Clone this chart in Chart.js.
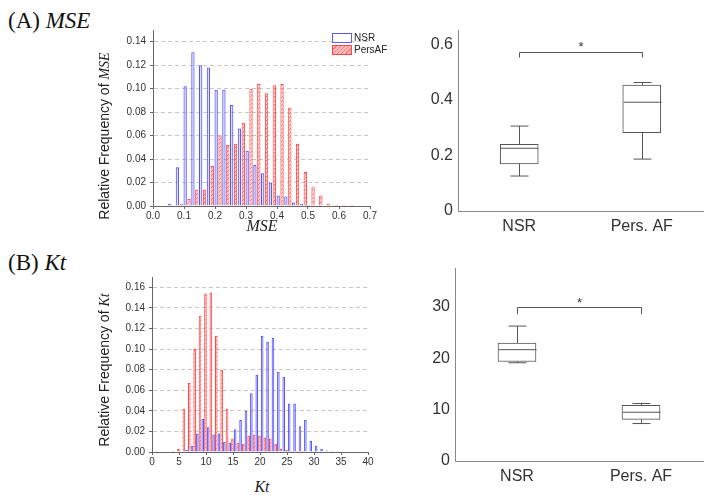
<!DOCTYPE html>
<html><head><meta charset="utf-8">
<script src="https://cdn.jsdelivr.net/npm/chart.js@4.4.0/dist/chart.umd.min.js"></script>
<style>
body{margin:0;background:#fff;width:712px;height:499px;position:relative;overflow:hidden;font-family:"Liberation Sans",Arial,sans-serif}
canvas{position:absolute}
.lbl{position:absolute;white-space:nowrap;color:#222}
.panel{font-family:"Liberation Serif","Times New Roman",serif;font-size:23px;color:#111}
.ser{font-family:"Liberation Serif","Times New Roman",serif;font-style:italic}
.ytitle{font-size:14px;width:220px;height:18px;line-height:18px;text-align:center;transform:rotate(-90deg);transform-origin:center}
.xtitle{font-size:16px;width:80px;text-align:center}
.sw{position:absolute;box-sizing:border-box;width:20px;height:10px}
.leg{font-size:10px;color:#222}
</style></head><body>
<div class="lbl panel" style="left:8px;top:8px">(A) <span style="font-style:italic">MSE</span></div>
<div class="lbl panel" style="left:8px;top:250px">(B) <span style="font-style:italic">Kt</span></div>

<canvas id="h1" width="290" height="206" style="left:95px;top:20px"></canvas>
<canvas id="h2" width="289" height="205" style="left:94px;top:267px"></canvas>
<canvas id="b1" width="312" height="225" style="left:400px;top:16px"></canvas>
<canvas id="b2" width="315" height="237" style="left:397px;top:254px"></canvas>

<div class="lbl ytitle" style="left:-6px;top:127px">Relative Frequency of <span class="ser">MSE</span></div>
<div class="lbl ytitle" style="left:-6px;top:361px">Relative Frequency of <span class="ser">Kt</span></div>
<div class="lbl xtitle ser" style="left:222px;top:217px">MSE</div>
<div class="lbl xtitle ser" style="left:222px;top:478px">Kt</div>

<div class="sw" style="left:332px;top:33px;border:1.5px solid rgb(90,90,255);background:#fff"></div>
<div class="lbl leg" style="left:354px;top:32px">NSR</div>
<div class="sw" style="left:332px;top:45px;border:1.5px solid rgb(255,70,70);background:repeating-linear-gradient(135deg,rgba(255,190,190,1) 0 2px,rgba(255,120,120,1) 2px 3px)"></div>
<div class="lbl leg" style="left:354px;top:44px">PersAF</div>

<script>
// ---------- data: MSE histogram ----------
const mseBins = [0.06,0.085,0.11,0.135,0.16,0.185,0.21,0.235,0.26,0.285,0.31,0.335,0.36,0.385,0.41,0.435,0.46,0.485,0.51,0.535,0.56,0.585,0.61,0.635];
const mseNSR = [0.002,0.033,0.102,0.131,0.120,0.118,0.099,0.099,0.086,0.066,0.047,0.035,0.028,0.020,0.009,0.008,0.003,0.002,0.001,0,0,0,0,0];
const msePersAF = [0,0.002,0.006,0.014,0.014,0.034,0.060,0.052,0.053,0.071,0.100,0.104,0.096,0.103,0.104,0.084,0.053,0.029,0.016,0.009,0.002,0.001,0.001,0.001];

// ---------- data: Kt histogram ----------
const ktBins = [3.65,4.65,5.65,6.65,7.65,8.65,9.65,10.65,11.65,12.65,13.65,14.65,15.65,16.65,17.65,18.65,19.65,20.65,21.65,22.65,23.65,24.65,25.65,26.65,27.65,28.65,29.65,30.65,31.65,32.65,33.65,34.65];
const ktNSR = [0,0,0.0005,0.002,0.006,0.018,0.032,0.024,0.017,0.018,0.010,0.009,0.022,0.031,0.040,0.057,0.075,0.113,0.107,0.111,0.078,0.073,0.047,0.047,0.025,0.031,0.011,0.006,0.003,0.0015,0.001,0.001];
const ktPersAF = [0.001,0.003,0.042,0.067,0.100,0.132,0.154,0.155,0.113,0.080,0.042,0.013,0.009,0.008,0.016,0.017,0.016,0.014,0.013,0.008,0.003,0.002,0.001,0.001,0.001,0,0,0,0,0,0,0];

// ---------- data: box plots ----------
const groups = ['NSR','Pers. AF'];
const mseMin = [0.126,0.187];
const mseQ1  = [0.170,0.282];
const mseMed = [0.226,0.392];
const mseQ3  = [0.240,0.454];
const mseMax = [0.306,0.463];
const mseSig = [0.574,0.553,0.600]; // bracket level, bracket foot, star
const ktMin = [19.15,7.3];
const ktQ1  = [19.4,8.1];
const ktMed = [21.7,9.5];
const ktQ3  = [23.0,10.85];
const ktMax = [26.3,11.2];
const ktSig = [30.0,28.6,31.3];

Chart.defaults.font.family = '"Liberation Sans", Arial, sans-serif';
Chart.defaults.animation = false;

function hatch(ctx){
  const c = document.createElement('canvas'); c.width = 4; c.height = 4;
  const g = c.getContext('2d');
  g.fillStyle = 'rgb(255,205,205)'; g.fillRect(0,0,4,4);
  g.strokeStyle = 'rgba(245,90,90,0.9)'; g.lineWidth = 1;
  g.beginPath(); g.moveTo(0,4); g.lineTo(4,0); g.stroke();
  return ctx.createPattern(c,'repeat');
}

function histChart(id, bins, nsr, af, xmin, xmax, xstep, xdec, ymax, barPct, gridDash){
  const ctx = document.getElementById(id).getContext('2d');
  const pts = arr => bins.map((b,i)=>({x:b,y:arr[i]})).filter(p=>p.y>0);
  return new Chart(ctx,{
    type:'bar',
    data:{datasets:[
      {label:'NSR',data:pts(nsr),backgroundColor:'rgba(170,170,255,0.35)',borderColor:'rgb(80,80,255)',borderWidth:1,barPercentage:barPct,categoryPercentage:1},
      {label:'PersAF',data:pts(af),backgroundColor:hatch(ctx),borderColor:'rgb(255,70,70)',borderWidth:1,barPercentage:barPct,categoryPercentage:1}
    ]},
    options:{
      responsive:false, animation:false,
      layout:{padding:{left:0,top:10,right:15,bottom:0}},
      plugins:{legend:{display:false},tooltip:{enabled:false}},
      scales:{
        x:{type:'linear',min:xmin,max:xmax,offset:false,
           grid:{offset:false,drawOnChartArea:false,drawTicks:true,tickLength:3,tickColor:'#666'},
           border:{color:'#666'},
           ticks:{stepSize:xstep,autoSkip:false,maxRotation:0,padding:1,color:'#333',font:{size:10},callback:v=>v.toFixed(xdec)},
           afterFit:s=>{s.height=20;}},
        y:{min:0,max:ymax,
           grid:{color:'#c8c8c8',tickColor:'#666',tickLength:3},
           border:{color:'#666',dash:gridDash},
           ticks:{stepSize:0.02,includeBounds:false,padding:4,color:'#333',font:{size:10},callback:v=>v.toFixed(2)},
           afterFit:s=>{s.width=58;}}
      }
    }
  });
}

function boxChart(id, mn, q1, med, q3, mx, sig, ymax, ystep){
  const ctx = document.getElementById(id).getContext('2d');
  const boxPlugin = {
    id:'boxes'+id,
    afterDatasetsDraw(chart){
      const c = chart.ctx, xs = chart.scales.x, ys = chart.scales.y;
      c.save();
      c.strokeStyle = '#555'; c.lineWidth = 1;
      const half = 19, cap = 9;
      for (let i=0;i<groups.length;i++){
        const x = Math.round(xs.getPixelForValue(i))+0.5;
        const yMin = ys.getPixelForValue(mn[i]), yQ1 = ys.getPixelForValue(q1[i]);
        const yMed = ys.getPixelForValue(med[i]), yQ3 = ys.getPixelForValue(q3[i]);
        const yMax = ys.getPixelForValue(mx[i]);
        c.beginPath();
        c.moveTo(x,yQ3); c.lineTo(x,yMax);
        c.moveTo(x-cap,yMax); c.lineTo(x+cap,yMax);
        c.moveTo(x,yQ1); c.lineTo(x,yMin);
        c.moveTo(x-cap,yMin); c.lineTo(x+cap,yMin);
        c.moveTo(x-half,yMed); c.lineTo(x+half,yMed);
        c.stroke();
      }
      const x0 = Math.round(xs.getPixelForValue(0))+0.5, x1 = Math.round(xs.getPixelForValue(1))+0.5;
      const yb = Math.round(ys.getPixelForValue(sig[0]))+0.5, yf = ys.getPixelForValue(sig[1]);
      c.beginPath();
      c.moveTo(x0,yf); c.lineTo(x0,yb); c.lineTo(x1,yb); c.lineTo(x1,yf);
      c.stroke();
      c.fillStyle = '#333'; c.font = '13px "Liberation Sans", Arial, sans-serif';
      c.textAlign = 'center'; c.textBaseline = 'middle';
      c.fillText('*', (x0+x1)/2, ys.getPixelForValue(sig[2])+3);
      c.restore();
    }
  };
  return new Chart(ctx,{
    type:'bar',
    data:{labels:groups,datasets:[{data:q1.map((v,i)=>[v,q3[i]]),backgroundColor:'#fff',borderColor:'#555',borderWidth:1,borderSkipped:false,barThickness:38}]},
    options:{
      responsive:false, animation:false,
      layout:{padding:{left:0,top:10,right:9,bottom:0}},
      plugins:{legend:{display:false},tooltip:{enabled:false}},
      scales:{
        x:{grid:{drawOnChartArea:false,drawTicks:false},border:{color:'#888'},
           ticks:{padding:6,color:'#333',font:{size:16}},afterFit:s=>{s.height=30;}},
        y:{min:0,max:ymax,grid:{drawOnChartArea:false,drawTicks:false},border:{color:'#888'},
           ticks:{stepSize:ystep,includeBounds:false,padding:5,color:'#333',font:{size:16}},afterFit:s=>{s.width=58;}}
      }
    },
    plugins:[boxPlugin]
  });
}

histChart('h1', mseBins, mseNSR, msePersAF, 0, 0.7, 0.1, 1, 0.15, 0.85, [4,3]);
histChart('h2', ktBins, ktNSR, ktPersAF, 0, 40, 5, 0, 0.17, 0.95, [4,3]);
boxChart('b1', mseMin, mseQ1, mseMed, mseQ3, mseMax, mseSig, 0.65, 0.2);
boxChart('b2', ktMin, ktQ1, ktMed, ktQ3, ktMax, ktSig, 37.5, 10);
</script>
</body></html>
